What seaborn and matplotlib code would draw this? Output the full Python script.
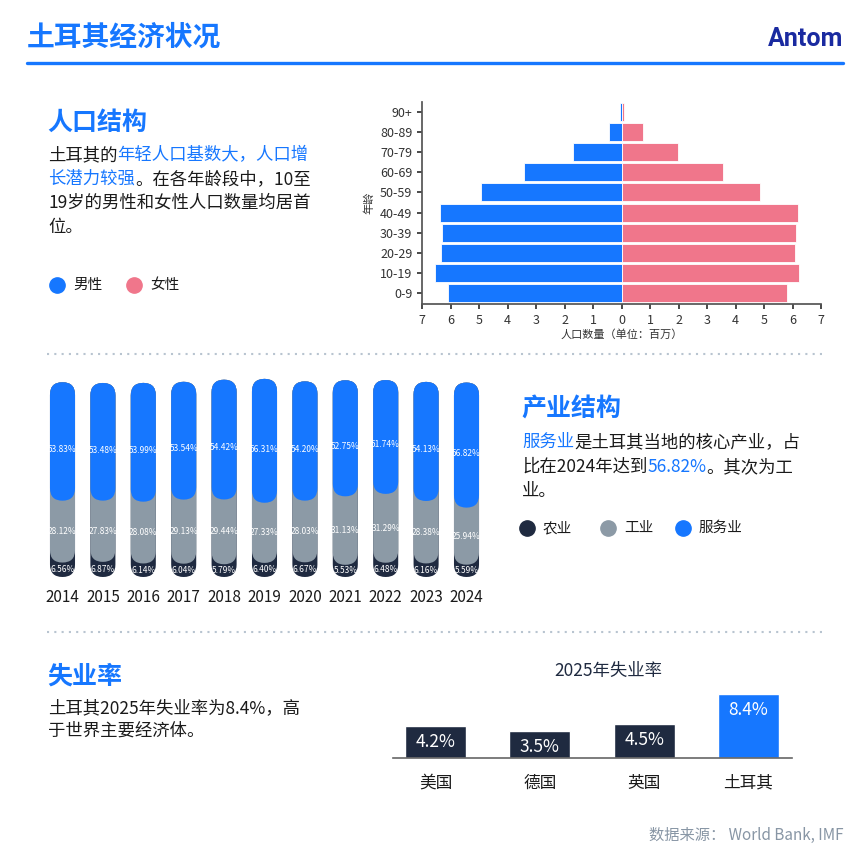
import numpy as np
import matplotlib
matplotlib.use('Agg')
import matplotlib.pyplot as plt
import seaborn as sns
from matplotlib.patches import FancyBboxPatch
from matplotlib.lines import Line2D

sns.set_theme(style='ticks')
plt.rcParams['font.family'] = ['Noto Sans CJK SC', 'DejaVu Sans']

# ---- 数据 ----
# 人口结构（百万）
ages = ['90+', '80-89', '70-79', '60-69', '50-59', '40-49', '30-39', '20-29', '10-19', '0-9']
male = [0.06, 0.43, 1.69, 3.41, 4.92, 6.37, 6.31, 6.35, 6.56, 6.09]
female = [0.09, 0.74, 1.99, 3.55, 4.86, 6.21, 6.12, 6.09, 6.24, 5.80]

# 产业结构（%）
years = ['2014', '2015', '2016', '2017', '2018', '2019', '2020', '2021', '2022', '2023', '2024']
agri = [6.56, 6.87, 6.14, 6.04, 5.79, 6.40, 6.67, 5.53, 6.48, 6.16, 5.59]
industry = [28.12, 27.83, 28.08, 29.13, 29.44, 27.33, 28.03, 31.13, 31.29, 28.38, 25.94]
services = [53.83, 53.48, 53.99, 53.54, 54.42, 56.31, 54.20, 52.75, 51.74, 54.13, 56.82]

# 2025年失业率（%）
countries = ['美国', '德国', '英国', '土耳其']
rates = [4.2, 3.5, 4.5, 8.4]

BLUE = '#1677ff'
PINK = '#f0768b'
NAVY = '#1f2a40'
GREY = '#8c9aa6'
TXT = '#1a1a1a'

W, H = 863, 856
fig = plt.figure(figsize=(W / 100, H / 100), dpi=100)
fig.patch.set_facecolor('white')


def fxy(x, y):
    return x / W, 1 - y / H


def axes_px(l, t, r, b):
    return fig.add_axes([l / W, 1 - b / H, (r - l) / W, (b - t) / H])


def text_px(x, y, s, **kw):
    return fig.text(*fxy(x, y), s, **kw)


def rich_line(x, y, parts, size=12.5):
    renderer = fig.canvas.get_renderer()
    for s, c in parts:
        t = text_px(x, y, s, color=c, fontsize=size, va='center', ha='left')
        x += t.get_window_extent(renderer).width


def legend_dot(x, y, color, label):
    fig.add_artist(Line2D([x / W], [1 - y / H], marker='o', ms=11, color=color,
                          transform=fig.transFigure, linestyle='none'))
    text_px(x + 16, y, label, fontsize=10.5, color=TXT, va='center')


# ---- 标题 ----
text_px(27, 38, '土耳其经济状况', fontsize=20, color=BLUE, weight='bold', va='center')
text_px(843, 39, 'Antom', fontsize=18, color='#1a2aa0', weight='bold', va='center', ha='right',
        family=['Roboto', 'DejaVu Sans'])
fig.add_artist(Line2D([27 / W, 843 / W], [1 - 63 / H] * 2, color=BLUE, lw=2.4,
                      transform=fig.transFigure))
for yy in (354, 632):
    fig.add_artist(Line2D([47 / W, 822 / W], [1 - yy / H] * 2, color='#b8c4d0', lw=1.5,
                          linestyle=(0, (1, 2.5)), transform=fig.transFigure))

# ---- 人口结构 ----
text_px(47, 123, '人口结构', fontsize=18, color=BLUE, weight='bold', va='center')
rich_line(48, 155, [('土耳其的', TXT), ('年轻人口基数大，人口增', BLUE)])
rich_line(48, 179, [('长潜力较强', BLUE), ('。在各年龄段中，10至', TXT)])
rich_line(48, 203, [('19岁的男性和女性人口数量均居首', TXT)])
rich_line(48, 227, [('位。', TXT)])
legend_dot(57, 285, BLUE, '男性')
legend_dot(134, 285, PINK, '女性')

ax1 = axes_px(422, 102, 821, 304)
sns.barplot(x=-np.array(male), y=ages, order=ages, color=BLUE, saturation=1, width=0.9,
            orient='h', edgecolor='white', linewidth=0.6, ax=ax1)
sns.barplot(x=female, y=ages, order=ages, color=PINK, saturation=1, width=0.9,
            orient='h', edgecolor='white', linewidth=0.6, ax=ax1)
ax1.set_xlim(-7, 7)
ax1.set_ylim(9.55, -0.5)
ax1.set_xticks(range(-7, 8))
ax1.set_xticklabels([str(abs(v)) for v in range(-7, 8)])
ax1.tick_params(labelsize=9, colors='#333333', length=3.5)
ax1.set_xlabel('人口数量（单位：百万）', fontsize=8, color='#333333', labelpad=2)
ax1.set_ylabel('年龄', fontsize=8, color='#333333')
sns.despine(ax=ax1)
for s in ('left', 'bottom'):
    ax1.spines[s].set_color('#555555')

# ---- 产业结构 ----
text_px(521, 410, '产业结构', fontsize=18, color=BLUE, weight='bold', va='center')
rich_line(522, 442, [('服务业', BLUE), ('是土耳其当地的核心产业，占', TXT)])
rich_line(522, 467, [('比在2024年达到', TXT), ('56.82%', BLUE), ('。其次为工', TXT)])
rich_line(522, 491, [('业。', TXT)])
legend_dot(527, 528, NAVY, '农业')
legend_dot(608, 528, GREY, '工业')
legend_dot(683, 528, BLUE, '服务业')

l2, t2, r2, b2 = 42.3, 375, 486.7, 577
ax2 = axes_px(l2, t2, r2, b2)
agri = np.array(agri)
industry = np.array(industry)
services = np.array(services)
totals = agri + industry + services
ylim2 = 91.8
asp = (ylim2 / (b2 - t2)) / (11 / (r2 - l2))

layers = [(NAVY, np.zeros(len(years))), (GREY, agri), (BLUE, agri + industry)]
for z, (color, bottoms) in enumerate(layers):
    n0 = len(ax2.patches)
    sns.barplot(x=years, y=totals, color=color, saturation=1, width=0.62, ax=ax2)
    for p, b in zip(list(ax2.patches[n0:]), bottoms):
        x0, w, top = p.get_x(), p.get_width(), p.get_height()
        p.remove()
        ax2.add_patch(FancyBboxPatch((x0, b), w, top - b,
                                     boxstyle=f'round,pad=0,rounding_size={w / 2}',
                                     mutation_aspect=asp, fc=color, ec='none', zorder=2 + z))

for i in range(len(years)):
    ax2.text(i, agri[i] / 2, f'{agri[i]:.2f}%', ha='center', va='center', color='white',
             fontsize=6, zorder=10)
    ax2.text(i, agri[i] + industry[i] / 2, f'{industry[i]:.2f}%', ha='center', va='center',
             color='white', fontsize=6, zorder=10)
    ax2.text(i, agri[i] + industry[i] + services[i] * 0.43, f'{services[i]:.2f}%', ha='center',
             va='center', color='white', fontsize=6, zorder=10)

ax2.set_xlim(-0.5, 10.5)
ax2.set_ylim(0, ylim2)
ax2.set_yticks([])
ax2.set_xlabel('')
ax2.set_ylabel('')
ax2.tick_params(axis='x', length=0, pad=9, labelsize=11, labelcolor=TXT)
sns.despine(ax=ax2, left=True, bottom=True)

# ---- 失业率 ----
text_px(47, 677, '失业率', fontsize=18, color=BLUE, weight='bold', va='center')
rich_line(48, 708, [('土耳其2025年失业率为8.4%，高', TXT)])
rich_line(48, 731, [('于世界主要经济体。', TXT)])

ax3 = axes_px(393, 686, 792, 758)
sns.barplot(x=countries, y=rates, hue=countries, palette=[NAVY, NAVY, NAVY, BLUE],
            saturation=1, width=0.585, legend=False, ax=ax3)
for i, v in enumerate(rates):
    ax3.annotate(f'{v}%', (i, v), xytext=(0, -11.5), textcoords='offset points',
                 ha='center', va='center', color='white', fontsize=12.5)
ax3.set_xlim(-0.41, 3.42)
ax3.set_ylim(0, 9.45)
ax3.set_yticks([])
ax3.set_xlabel('')
ax3.set_ylabel('')
ax3.tick_params(axis='x', length=0, pad=12, labelsize=12, labelcolor=TXT)
sns.despine(ax=ax3, left=True)
ax3.spines['bottom'].set_color('#666666')
ax3.spines['bottom'].set_linewidth(1.2)
text_px(608, 671, '2025年失业率', fontsize=12.5, color=NAVY, ha='center', va='center',
        weight='medium')

text_px(843, 835, '数据来源： World Bank, IMF', fontsize=11, color='#8896a5', ha='right',
        va='center')

fig.savefig('out.png', dpi=100)
